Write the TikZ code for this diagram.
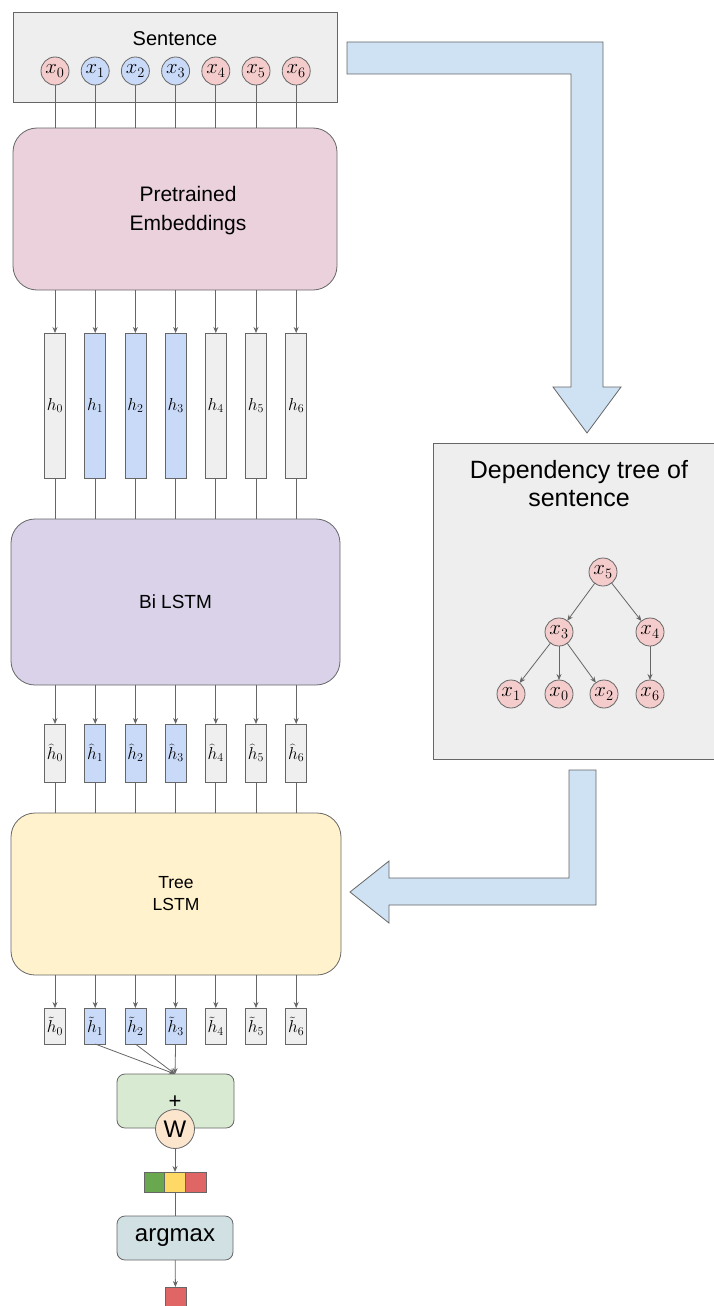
\documentclass[tikz,border=0pt]{standalone}
\usepackage{fontspec}
\setmainfont{Liberation Sans}
\usetikzlibrary{arrows.meta}

\definecolor{edge}{HTML}{666666}
\definecolor{tokred}{HTML}{F4CCCC}
\definecolor{tokblue}{HTML}{C9DAF8}
\definecolor{panelgray}{HTML}{EEEEEE}
\definecolor{vecgray}{HTML}{EFEFEF}
\definecolor{embpink}{HTML}{EAD1DC}
\definecolor{lstmpurple}{HTML}{D9D2E9}
\definecolor{treeyellow}{HTML}{FFF2CC}
\definecolor{sumgreen}{HTML}{D9EAD3}
\definecolor{wpeach}{HTML}{FCE5CD}
\definecolor{argblue}{HTML}{D0E0E3}
\definecolor{flowblue}{HTML}{CFE2F3}
\definecolor{scgreen}{HTML}{6AA84F}
\definecolor{scyellow}{HTML}{FFD966}
\definecolor{scred}{HTML}{E06666}

\begin{document}
\begin{tikzpicture}[x=1pt,y=-1pt,
  every node/.style={inner sep=0pt, outer sep=0pt},
  line/.style={draw=edge, line width=0.8pt},
  arr/.style={line, -{Stealth[length=6pt,width=5pt]}},
  panel/.style={line, fill=panelgray, rectangle},
  tok/.style={line, circle, minimum size=28pt, font=\fontsize{22}{22}\selectfont},
  block/.style={line, rounded corners=24pt, rectangle},
  vec/.style={line, rectangle, minimum width=21pt, font=\fontsize{18}{18}\selectfont},
  smallblock/.style={line, rounded corners=8pt, rectangle},
  cell/.style={line, rectangle, minimum width=20.7pt, minimum height=20pt},
  flow/.style={draw=edge, line width=0.8pt, fill=flowblue, line join=miter}
]
\useasboundingbox (0,0) rectangle (714,1306);

% ---------- flow arrows between the two columns ----------
\draw[flow] (347,42) -- (603,42) -- (603,387) -- (621,387) -- (587,433)
  -- (553,387) -- (571,387) -- (571,74) -- (347,74) -- cycle;
\draw[flow] (569,770) -- (596,770) -- (596,905) -- (389,905) -- (389,923)
  -- (350,892) -- (389,861) -- (389,878) -- (569,878) -- cycle;

% ---------- sentence ----------
\node[panel, minimum width=324pt, minimum height=90pt] (sent) at (175,57) {};
\node[font=\fontsize{20}{20}\selectfont] (senttitle) at (175,39) {Sentence};
\foreach \i/\c in {0/tokred,1/tokblue,2/tokblue,3/tokblue,4/tokred,5/tokred,6/tokred}{
  \node[tok, fill=\c] (x\i) at ({55+40.2*\i},71) {$x_\i$};
}

% ---------- embeddings ----------
\node[block, fill=embpink, minimum width=324pt, minimum height=162pt] (emb) at (175,209) {};
\node[align=center, font=\fontsize{21}{29}\selectfont] (embtext) at (188,211)
  {Pretrained\\Embeddings};

% ---------- word vectors ----------
\foreach \i/\c in {0/vecgray,1/tokblue,2/tokblue,3/tokblue,4/vecgray,5/vecgray,6/vecgray}{
  \node[vec, fill=\c, minimum height=145pt] (h\i) at ({55+40.2*\i},405.5) {$h_\i$};
}

% ---------- BiLSTM ----------
\node[block, fill=lstmpurple, minimum width=329pt, minimum height=166pt,
  font=\fontsize{19}{19}\selectfont] (bilstm) at (175.5,602) {Bi LSTM};

\foreach \i/\c in {0/vecgray,1/tokblue,2/tokblue,3/tokblue,4/vecgray,5/vecgray,6/vecgray}{
  \node[vec, fill=\c, minimum height=58pt] (hh\i) at ({55+40.2*\i},753) {$\widehat{h}_\i$};
}

% ---------- Tree LSTM ----------
\node[block, fill=treeyellow, minimum width=330pt, minimum height=162pt,
  align=center, font=\fontsize{17.5}{22}\selectfont] (tree) at (176,894) {Tree\\LSTM};

\foreach \i/\c in {0/vecgray,1/tokblue,2/tokblue,3/tokblue,4/vecgray,5/vecgray,6/vecgray}{
  \node[vec, fill=\c, minimum height=36pt] (ht\i) at ({55+40.2*\i},1026) {$\tilde{h}_\i$};
}

% ---------- vertical connectors ----------
\foreach \i in {0,...,6}{
  \draw[line] (x\i) -- (x\i |- emb.north);
  \draw[arr] (h\i |- emb.south) -- (h\i);
  \draw[line] (h\i) -- (h\i |- bilstm.north);
  \draw[arr] (hh\i |- bilstm.south) -- (hh\i);
  \draw[line] (hh\i) -- (hh\i |- tree.north);
  \draw[arr] (ht\i |- tree.south) -- (ht\i);
}

% ---------- classifier ----------
\node[smallblock, fill=sumgreen, minimum width=117pt, minimum height=54pt] (sum) at (175.5,1101) {};
\node[font=\fontsize{22}{22}\selectfont] (plus) at (175,1102) {+};
\node[line, circle, fill=wpeach, minimum size=39pt, font=\fontsize{24}{24}\selectfont] (W) at (175,1129) {W};
\coordinate (sumin) at (175,1074);
\foreach \i in {1,2,3}{
  \draw[arr] (ht\i.south) -- (sumin);
}

\node[cell, fill=scgreen] (c1) at (154.3,1182) {};
\node[cell, fill=scyellow] (c2) at (175,1182) {};
\node[cell, fill=scred] (c3) at (195.7,1182) {};
\draw[arr] (W) -- (c2);

\node[smallblock, fill=argblue, minimum width=116pt, minimum height=44pt,
  font=\fontsize{24}{24}\selectfont] (argmax) at (175,1238) {argmax};
\draw[line] (c2) -- (argmax);

\node[line, rectangle, fill=scred, minimum width=21pt, minimum height=21pt] (out) at (175.5,1297.5) {};
\draw[arr] (argmax) -- (out);

% ---------- dependency tree ----------
\node[panel, minimum width=290pt, minimum height=316pt] (dep) at (578,601) {};
\node[align=center, font=\fontsize{25}{28}\selectfont] (deptitle) at (579,484)
  {Dependency tree of\\sentence};
\node[tok, fill=tokred] (t5) at (603,572) {$x_5$};
\node[tok, fill=tokred] (t3) at (559,632) {$x_3$};
\node[tok, fill=tokred] (t4) at (650,632) {$x_4$};
\node[tok, fill=tokred] (t1) at (511,694) {$x_1$};
\node[tok, fill=tokred] (t0) at (559,694) {$x_0$};
\node[tok, fill=tokred] (t2) at (604,694) {$x_2$};
\node[tok, fill=tokred] (t6) at (650,694) {$x_6$};
\draw[arr] (t5) -- (t3);
\draw[arr] (t5) -- (t4);
\draw[arr] (t3) -- (t1);
\draw[arr] (t3) -- (t0);
\draw[arr] (t3) -- (t2);
\draw[arr] (t4) -- (t6);
\end{tikzpicture}
\end{document}
